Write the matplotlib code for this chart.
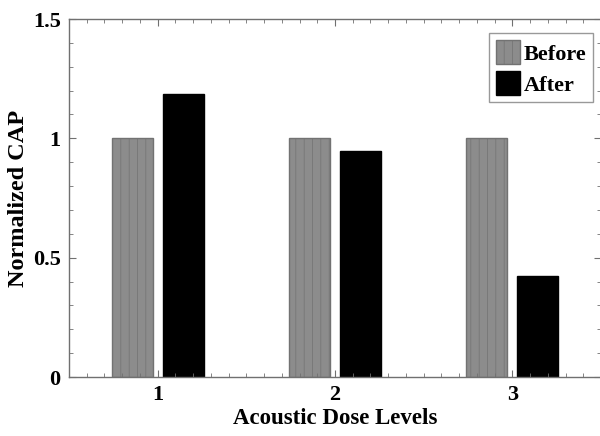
import matplotlib
matplotlib.use("Agg")
import matplotlib.pyplot as plt
import numpy as np
from matplotlib.ticker import MultipleLocator

categories = [1, 2, 3]
before = [1.0, 1.0, 1.0]
after = [1.185, 0.945, 0.425]
series_labels = ["Before", "After"]
xlabel = "Acoustic Dose Levels"
ylabel = "Normalized CAP"

plt.rcParams['font.family'] = ['Liberation Serif', 'DejaVu Serif']
plt.rcParams['font.weight'] = 'bold'
plt.rcParams['hatch.linewidth'] = 0.5

fig = plt.figure(figsize=(6.0, 4.36), dpi=100)
ax = fig.add_axes([69/600, 1 - 377/436, (601 - 69)/600, (377 - 19)/436])

x = np.array(categories, dtype=float)
w = 0.23
off = 0.144
ax.bar(x - off, before, width=w, facecolor='#8c8c8c', edgecolor='#727272',
       hatch='||', linewidth=1.0, label=series_labels[0])
ax.bar(x + off, after, width=w, facecolor='black', edgecolor='black',
       linewidth=1.0, label=series_labels[1])

ax.set_xlim(0.5, 3.5)
ax.set_ylim(0, 1.5)
ax.set_xticks(categories)
ax.set_xticklabels([str(c) for c in categories])
ax.set_yticks([0, 0.5, 1, 1.5])
ax.set_yticklabels(['0', '0.5', '1', '1.5'])
ax.xaxis.set_minor_locator(MultipleLocator(0.1))
ax.yaxis.set_minor_locator(MultipleLocator(0.1))
ax.tick_params(which='both', direction='in', top=True, right=True,
               color='#707070', labelsize=16, pad=6)
ax.tick_params(which='major', length=5)
ax.tick_params(which='minor', length=3)
for s in ax.spines.values():
    s.set_color('#707070')
    s.set_linewidth(1.0)

ax.set_xlabel(xlabel, fontsize=16.5, fontweight='bold', labelpad=2)
ax.set_ylabel(ylabel, fontsize=17.5, fontweight='bold', labelpad=3)

leg = ax.legend(loc='upper right', bbox_to_anchor=(0.985, 0.96), fontsize=16,
                frameon=True, fancybox=False, edgecolor='#808080',
                handlelength=1.1, handleheight=1.3, handletextpad=0.15,
                borderpad=0.3, labelspacing=0.3, borderaxespad=0)
leg.get_frame().set_linewidth(1.0)

fig.savefig('out.png', dpi=100)
